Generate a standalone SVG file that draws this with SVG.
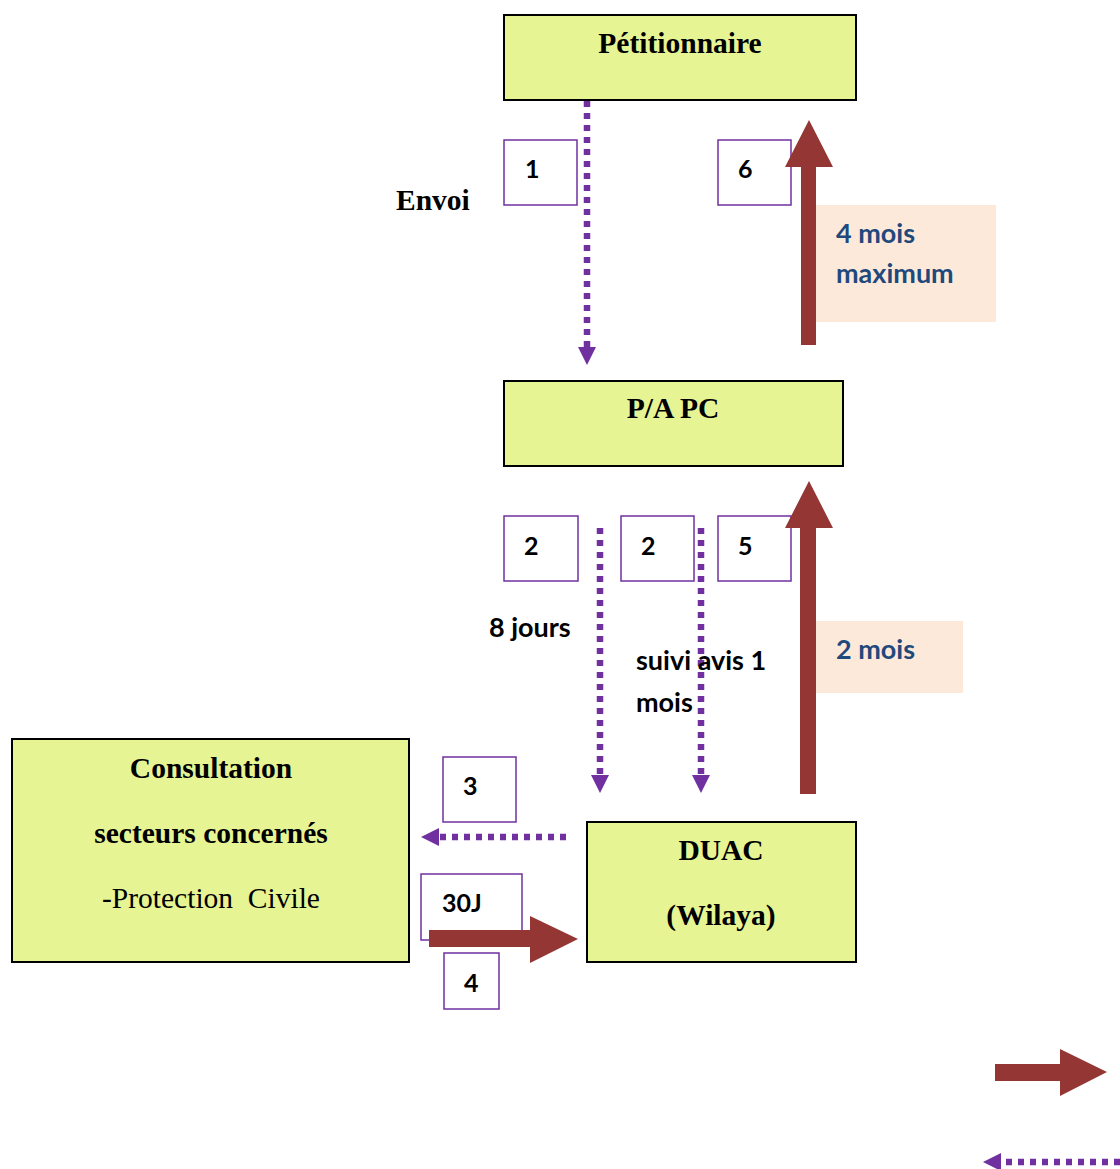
<svg xmlns="http://www.w3.org/2000/svg" width="1120" height="1169" viewBox="0 0 1120 1169">
<style>
.node{fill:#e6f494;stroke:#000;stroke-width:2}
.num{fill:#fff;stroke:#7030a0;stroke-width:1.5}
.peach{fill:#fde9d9;stroke:none}
.serif{font-family:"Liberation Serif","Times New Roman",serif;font-size:29.5px;fill:#000}
.sans{font-family:Lato,"Liberation Sans",sans-serif;font-weight:bold;font-size:27px;fill:#000}
.n{font-size:25px}
.blue{fill:#1f497d}
.dot{fill:none;stroke:#7030a0;stroke-width:6.5;stroke-dasharray:6 6}
.red{fill:#943634}
</style>
<defs>
<marker id="ph" markerWidth="18" markerHeight="18" refX="0" refY="9" orient="auto" markerUnits="userSpaceOnUse" overflow="visible">
<path d="M0,0 L18,9 L0,18 Z" fill="#7030a0"/>
</marker>
</defs>
<rect width="1120" height="1169" fill="#fff"/>

<g id="petitionnaire">
<rect class="node" x="504" y="15" width="352" height="85"/>
<text class="serif" x="680" y="53" text-anchor="middle" font-weight="bold">Pétitionnaire</text>
</g>
<g id="papc">
<rect class="node" x="504" y="381" width="339" height="85"/>
<text class="serif" x="673" y="418" text-anchor="middle" font-weight="bold">P/A PC</text>
</g>
<g id="consultation">
<rect class="node" x="12" y="739" width="397" height="223"/>
<text class="serif" x="211" y="778" text-anchor="middle" font-weight="bold">Consultation</text>
<text class="serif" x="211" y="843" text-anchor="middle" font-weight="bold">secteurs concernés</text>
<text class="serif" x="211" y="908" text-anchor="middle" xml:space="preserve">-Protection  Civile</text>
</g>
<g id="duac">
<rect class="node" x="587" y="822" width="269" height="140"/>
<text class="serif" x="721" y="860" text-anchor="middle" font-weight="bold">DUAC</text>
<text class="serif" x="721" y="925" text-anchor="middle" font-weight="bold">(Wilaya)</text>
</g>

<g id="labels">
<rect class="peach" x="816" y="205" width="180" height="117"/>
<text class="sans blue" x="836" y="243">4 mois</text>
<text class="sans blue" x="836" y="283">maximum</text>
<rect class="peach" x="816" y="621" width="147" height="72"/>
<text class="sans blue" x="836" y="659">2 mois</text>
<text class="serif" x="396" y="210" font-weight="bold">Envoi</text>
<text class="sans" x="489" y="637">8 jours</text>
</g>

<g id="steps">
<rect class="num" x="504" y="140" width="73" height="65"/>
<text class="sans n" x="525" y="178">1</text>
<rect class="num" x="718" y="140" width="73" height="65"/>
<text class="sans n" x="738" y="178">6</text>
<rect class="num" x="504" y="516" width="74" height="65"/>
<text class="sans n" x="524" y="555">2</text>
<rect class="num" x="621" y="516" width="73" height="65"/>
<text class="sans n" x="641" y="555">2</text>
<rect class="num" x="718" y="516" width="73" height="65"/>
<text class="sans n" x="738" y="555">5</text>
<rect class="num" x="443" y="757" width="73" height="65"/>
<text class="sans n" x="463" y="795">3</text>
<rect class="num" x="421" y="874" width="101" height="66"/>
<text class="sans n" x="442" y="912">30J</text>
<rect class="num" x="444" y="953" width="55" height="56"/>
<text class="sans n" x="464" y="992">4</text>
</g>

<g id="connectors">
<line class="dot" x1="587" y1="101" x2="587" y2="347" marker-end="url(#ph)"/>
<line class="dot" x1="600" y1="528" x2="600" y2="775" marker-end="url(#ph)"/>
<line class="dot" x1="701" y1="528" x2="701" y2="775" marker-end="url(#ph)"/>
<line class="dot" x1="566" y1="837" x2="439" y2="837" marker-end="url(#ph)"/>
<line class="dot" x1="1120" y1="1162" x2="1001" y2="1162" marker-end="url(#ph)"/>
<polygon class="red" points="801,345 816,345 816,167 833,167 809,120 785,167 801,167"/>
<polygon class="red" points="800,794 816,794 816,528 833,528 809,481 785,528 800,528"/>
<polygon class="red" points="429,930 530,930 530,916 578,939 530,963 530,947 429,947"/>
<polygon class="red" points="995,1064 1060,1064 1060,1049 1107,1072 1060,1096 1060,1081 995,1081"/>
</g>
<text class="sans" x="636" y="670">suivi avis 1</text>
<text class="sans" x="636" y="712">mois</text>
</svg>
